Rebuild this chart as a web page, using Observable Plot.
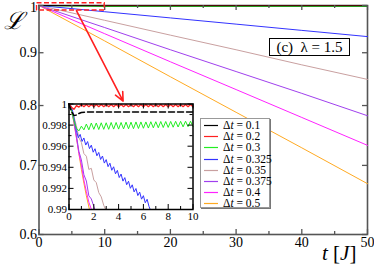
<!DOCTYPE html>
<html><head><meta charset="utf-8">
<script src="https://cdn.jsdelivr.net/npm/d3@7"></script>
<script src="https://cdn.jsdelivr.net/npm/@observablehq/plot@0.6"></script>
<style>
body{margin:0;background:#fff;}
#wrap{position:relative;width:374px;height:265px;font-family:"Liberation Serif","Times New Roman",Times,"DejaVu Serif",serif;}
#wrap > svg{position:absolute;}
.abs{position:absolute;}
#legend{left:200px;top:118px;width:70px;height:90px;border:1px solid #999;box-shadow:1px 1px 0 #777;background:#fff;box-sizing:border-box;}
.li{position:absolute;left:0;font-size:11.5px;line-height:11px;white-space:nowrap;}
.li svg.sw{position:absolute;left:2px;top:3px;}
.li span.tx{position:absolute;left:22px;top:0;}
#ann{left:269px;top:38px;width:81px;height:18px;border:1.3px solid #000;background:#fff;font-size:15px;line-height:17px;text-align:center;box-sizing:border-box;}
</style></head>
<body><div id="wrap"></div>
<script>
// ---- main panel data (t in units of 1/J) ----
const tMain = [0, 10, 20, 30, 40, 50];
const main_dt01   = [1, 0.9993, 0.9993, 0.9993, 0.9993, 0.9993];
const main_dt02   = [1, 0.9999, 0.9999, 0.9999, 0.9999, 0.9999];
const main_dt03   = [1, 0.9979, 0.998, 0.998, 0.998, 0.998];
const main_dt0325 = [1, 0.9862, 0.9727, 0.9593, 0.946, 0.933];
const main_dt035  = [1, 0.9675, 0.936, 0.906, 0.876, 0.848];
const main_dt0375 = [1, 0.952, 0.906, 0.863, 0.822, 0.782];
const main_dt04   = [1, 0.939, 0.882, 0.829, 0.779, 0.732];
const main_dt05   = [1, 0.924, 0.853, 0.788, 0.728, 0.672];

// ---- inset data ----
const inT_black = [0, 0.2, 0.4, 0.6, 0.8, 1.0, 1.5, 2, 3, 4, 5, 6, 7, 8, 9, 10];
const inL_black = [1, 0.9993, 0.9989, 0.99895, 0.9991, 0.9992, 0.99925, 0.99925, 0.99925, 0.99925, 0.99925, 0.99925, 0.99925, 0.99925, 0.99925, 0.99925];
const inT_grid = [0,0.2,0.4,0.6,0.8,1,1.2,1.4,1.6,1.8,2,2.2,2.4,2.6,2.8,3,3.2,3.4,3.6,3.8,4,4.2,4.4,4.6,4.8,5,5.2,5.4,5.6,5.8,6,6.2,6.4,6.6,6.8,7,7.2,7.4,7.6,7.8,8,8.2,8.4,8.6,8.8,9,9.2,9.4,9.6,9.8,10];
const inL_red = [1,0.9997,0.9995,0.99985,0.9997,0.99995,0.99975,0.99995,0.99975,0.99995,0.99975,0.99995,0.99975,0.99995,0.99975,0.99995,0.99975,0.99995,0.99975,0.99995,0.99975,0.99995,0.99975,0.99995,0.99975,0.99995,0.99975,0.99995,0.99975,0.99995,0.99975,0.99995,0.99975,0.99995,0.99975,0.99995,0.99975,0.99995,0.99975,0.99995,0.99975,0.99995,0.99975,0.99995,0.99975,0.99995,0.99975,0.99995,0.99975,0.99995,0.99975];
const inL_green = [1,0.9994,0.9984,0.9977,0.99745,0.9979,0.99755,0.9981,0.99755,0.9982,0.9976,0.9982,0.99758,0.99822,0.9976,0.99822,0.9976,0.99825,0.99762,0.99825,0.99762,0.99825,0.99764,0.99828,0.99765,0.99828,0.99766,0.9983,0.99768,0.9983,0.9977,0.9983,0.99772,0.99832,0.99774,0.99832,0.99775,0.99834,0.99777,0.99834,0.99778,0.99835,0.9978,0.99836,0.99782,0.99836,0.99783,0.99837,0.99785,0.99837,0.99786];
const inT_blue = [0,0.15,0.3,0.45,0.6,0.75,0.9,1.05,1.2,1.35,1.5,1.65,1.8,1.95,2.1,2.25,2.4,2.55,2.7,2.85,3,3.15,3.3,3.45,3.6,3.75,3.9,4.05,4.2,4.35,4.5,4.65,4.8,4.95,5.1,5.25,5.4,5.55,5.7,5.85,6,6.15,6.3,6.45,6.55];
const inL_blue = [1,0.99985,0.9993,0.9984,0.99747,0.9968,0.99712,0.99645,0.99678,0.99611,0.99644,0.99577,0.9961,0.99543,0.99576,0.99509,0.99541,0.99474,0.99507,0.9944,0.99473,0.99406,0.99439,0.99372,0.99405,0.99338,0.99371,0.99303,0.99336,0.99269,0.99302,0.99235,0.99268,0.99201,0.99234,0.99167,0.99199,0.99132,0.99165,0.99098,0.99131,0.99064,0.99097,0.9903,0.9900];
const inT_brown = [0,0.2,0.4,0.6,0.8,1.0,1.2,1.4,1.6,1.8,2.0,2.2,2.4,2.6,2.8,2.95];
const inL_brown = [1,0.9996,0.9988,0.9979,0.9968,0.99635,0.9953,0.99505,0.9938,0.9939,0.9928,0.99255,0.9916,0.9912,0.9904,0.9900];
const inT_purple = [0,0.2,0.4,0.6,0.8,1.0,1.2,1.4,1.6,1.8,2.0,2.08];
const inL_purple = [1,0.9995,0.9984,0.997,0.9955,0.9947,0.9933,0.9927,0.9913,0.9910,0.9903,0.9900];
const inT_magenta = [0,0.2,0.4,0.6,0.8,1.0,1.2,1.4,1.6,1.81];
const inL_magenta = [1,0.9995,0.9983,0.9968,0.9953,0.9942,0.9928,0.9917,0.9907,0.9900];
const inT_orange = [0,0.2,0.4,0.6,0.8,1.0,1.2,1.4,1.65];
const inL_orange = [1,0.9994,0.9982,0.9968,0.9953,0.9938,0.9925,0.9913,0.9900];

const labels = ["\u0394t = 0.1","\u0394t = 0.2","\u0394t = 0.3","\u0394t = 0.325","\u0394t = 0.35","\u0394t = 0.375","\u0394t = 0.4","\u0394t = 0.5"];
const colors = ["#000000","#ff2020","#22ee22","#3333ff","#c9a0a0","#a040ee","#ff22ff","#ffaa22"];

const xTicksMain = [0,10,20,30,40,50];
const xMinorMain = [5,15,25,35,45];
const yTicksMain = [0.6,0.7,0.8,0.9,1];
const yLabelsMain = [0.6,0.7,0.8,0.9];
const xTicksIn = [0,2,4,6,8,10];
const xMinorIn = [1,3,5,7,9];
const yTicksIn = [0.99,0.992,0.994,0.996,0.998,1];
const yMinorIn = [0.991,0.993,0.995,0.997,0.999];

const zoomBox = [{x1:-0.3, x2:10, y1:0.989, y2:1.005}];
const zoomArrow = [{x1:5.7, y1:0.9885, x2:12.8, y2:0.808}];

const FONT = "Liberation Serif, Times New Roman, Times, DejaVu Serif, serif";
const zip = (t, L) => t.map((v, i) => ({t: v, L: L[i]}));
const mainSeries = [main_dt01, main_dt02, main_dt03, main_dt0325, main_dt035, main_dt0375, main_dt04, main_dt05];

const wrap = document.getElementById("wrap");
const axC = "#555";
// main plot
const W = 374, H = 265, mL = 38.5, mR = 7, mT = 5, mB = 31;
const pw = W - mL - mR, ph = H - mT - mB;
const main = Plot.plot({
  width: W, height: H, marginLeft: mL, marginRight: mR, marginTop: mT, marginBottom: mB,
  x: {domain: [0, 50], axis: null},
  y: {type: "log", domain: [0.6, 1], axis: null},
  style: {fontFamily: FONT, fontSize: "14px", background: "transparent", overflow: "visible"},
  marks: [
    Plot.frame({stroke: axC, strokeWidth: 1.6}),
    ...mainSeries.slice().reverse().map((s, j) => Plot.line(zip(tMain, s), {x: "t", y: "L", stroke: colors[7 - j], strokeWidth: 1})),
    Plot.tickX(xTicksMain, {x: d => d, insetTop: ph - 5, stroke: axC, strokeWidth: 1.3}),
    Plot.tickX(xTicksMain, {x: d => d, insetBottom: ph - 5, stroke: axC, strokeWidth: 1.3}),
    Plot.tickX(xMinorMain, {x: d => d, insetTop: ph - 3, stroke: axC, strokeWidth: 1.3}),
    Plot.tickX(xMinorMain, {x: d => d, insetBottom: ph - 3, stroke: axC, strokeWidth: 1.3}),
    Plot.tickY(yTicksMain, {y: d => d, insetRight: pw - 5, stroke: axC, strokeWidth: 1.3}),
    Plot.tickY(yTicksMain, {y: d => d, insetLeft: pw - 5, stroke: axC, strokeWidth: 1.3}),
    Plot.axisX(xTicksMain, {anchor: "bottom", tickSize: 0, tickPadding: 3, fontSize: 14, fill: "#000", label: null}),
    Plot.axisY(yLabelsMain, {anchor: "left", tickSize: 0, tickPadding: 2, fontSize: 14, fill: "#000", label: null, tickFormat: d3.format(".1f")}),
    Plot.text([1], {y: d => d, frameAnchor: "left", text: d => "1", textAnchor: "end", dx: -2, dy: 2, fontSize: 14, fill: "#000"}),
    Plot.rect(zoomBox, {x1: "x1", x2: "x2", y1: "y1", y2: "y2", stroke: "#ff2020", strokeWidth: 1.4, strokeDasharray: "5,2.5", fill: "none"}),
    Plot.arrow(zoomArrow, {x1: "x1", y1: "y1", x2: "x2", y2: "y2", stroke: "#ff2020", strokeWidth: 1.6, headLength: 9, headAngle: 50})
  ]
});
main.style.left = "0px"; main.style.top = "0px";
wrap.appendChild(main);

// inset
const iW = 160, iH = 130, iL = 28.5, iR = 7.5, iT = 7.5, iB = 17;
const ipw = iW - iL - iR, iph = iH - iT - iB;
const insetData = [
  {t: inT_orange, L: inL_orange, c: 7},
  {t: inT_magenta, L: inL_magenta, c: 6},
  {t: inT_purple, L: inL_purple, c: 5},
  {t: inT_brown, L: inL_brown, c: 4},
  {t: inT_blue, L: inL_blue, c: 3},
  {t: inT_grid, L: inL_green, c: 2},
  {t: inT_grid, L: inL_red, c: 1}
];
const inset = Plot.plot({
  width: iW, height: iH, marginLeft: iL, marginRight: iR, marginTop: iT, marginBottom: iB,
  x: {domain: [0, 10], axis: null},
  y: {domain: [0.99, 1], axis: null},
  style: {fontFamily: FONT, fontSize: "11px", background: "transparent", overflow: "visible"},
  marks: [
    Plot.frame({fill: "white"}),
    ...insetData.map(s => Plot.line(zip(s.t, s.L), {x: "t", y: "L", stroke: colors[s.c], strokeWidth: s.c === 1 ? 1.3 : 1})),
    Plot.line(zip(inT_black, inL_black), {x: "t", y: "L", stroke: "#000", strokeWidth: 1.5, strokeDasharray: "6,3"}),
    Plot.tickX(xTicksIn, {x: d => d, insetTop: iph - 5, stroke: "#000"}),
    Plot.tickX(xTicksIn, {x: d => d, insetBottom: iph - 5, stroke: "#000"}),
    Plot.tickX(xMinorIn, {x: d => d, insetTop: iph - 3, stroke: "#000"}),
    Plot.tickX(xMinorIn, {x: d => d, insetBottom: iph - 3, stroke: "#000"}),
    Plot.tickY(yTicksIn, {y: d => d, insetRight: ipw - 5, stroke: "#000"}),
    Plot.tickY(yTicksIn, {y: d => d, insetLeft: ipw - 5, stroke: "#000"}),
    Plot.tickY(yMinorIn, {y: d => d, insetRight: ipw - 3, stroke: "#000"}),
    Plot.tickY(yMinorIn, {y: d => d, insetLeft: ipw - 3, stroke: "#000"}),
    Plot.frame({stroke: "#000", strokeWidth: 1.5}),
    Plot.axisX(xTicksIn, {anchor: "bottom", tickSize: 0, tickPadding: 3, fontSize: 11, fill: "#000", label: null}),
    Plot.axisY(yTicksIn, {anchor: "left", tickSize: 0, tickPadding: 2, fontSize: 11, fill: "#000", label: null, tickFormat: d => d === 1 ? "1" : d3.format(".3~f")(d)})
  ]
});
inset.style.left = "40px"; inset.style.top = "96px";
wrap.appendChild(inset);

// legend
const leg = document.createElement("div");
leg.id = "legend"; leg.className = "abs";
labels.forEach((lab, i) => {
  const d = document.createElement("div");
  d.className = "li"; d.style.top = Math.round(1 + i * 11.2) + "px";
  const parts = lab.split("t");
  d.innerHTML = `<svg class="sw" width="16" height="5"><line x1="1" x2="15" y1="2.5" y2="2.5" stroke="${colors[i]}" stroke-width="1.2"/></svg><span class="tx">\u0394<i>t</i>${parts[1]}</span>`;
  leg.appendChild(d);
});
wrap.appendChild(leg);

// annotation
const ann = document.createElement("div");
ann.id = "ann"; ann.className = "abs";
ann.innerHTML = "(c)&nbsp; \u03bb = 1.5";
wrap.appendChild(ann);

// axis titles
const yl = document.createElement("div");
yl.className = "abs"; yl.style.cssText = "left:4px;top:9px;font-size:24px;font-style:italic;line-height:24px;";
yl.textContent = "\u2112";
wrap.appendChild(yl);
const xl = document.createElement("div");
xl.className = "abs"; xl.style.cssText = "left:322px;top:242px;font-size:21px;line-height:22px;white-space:nowrap;";
xl.innerHTML = "<i>t</i> [<i>J</i>]";
wrap.appendChild(xl);
</script></body></html>
